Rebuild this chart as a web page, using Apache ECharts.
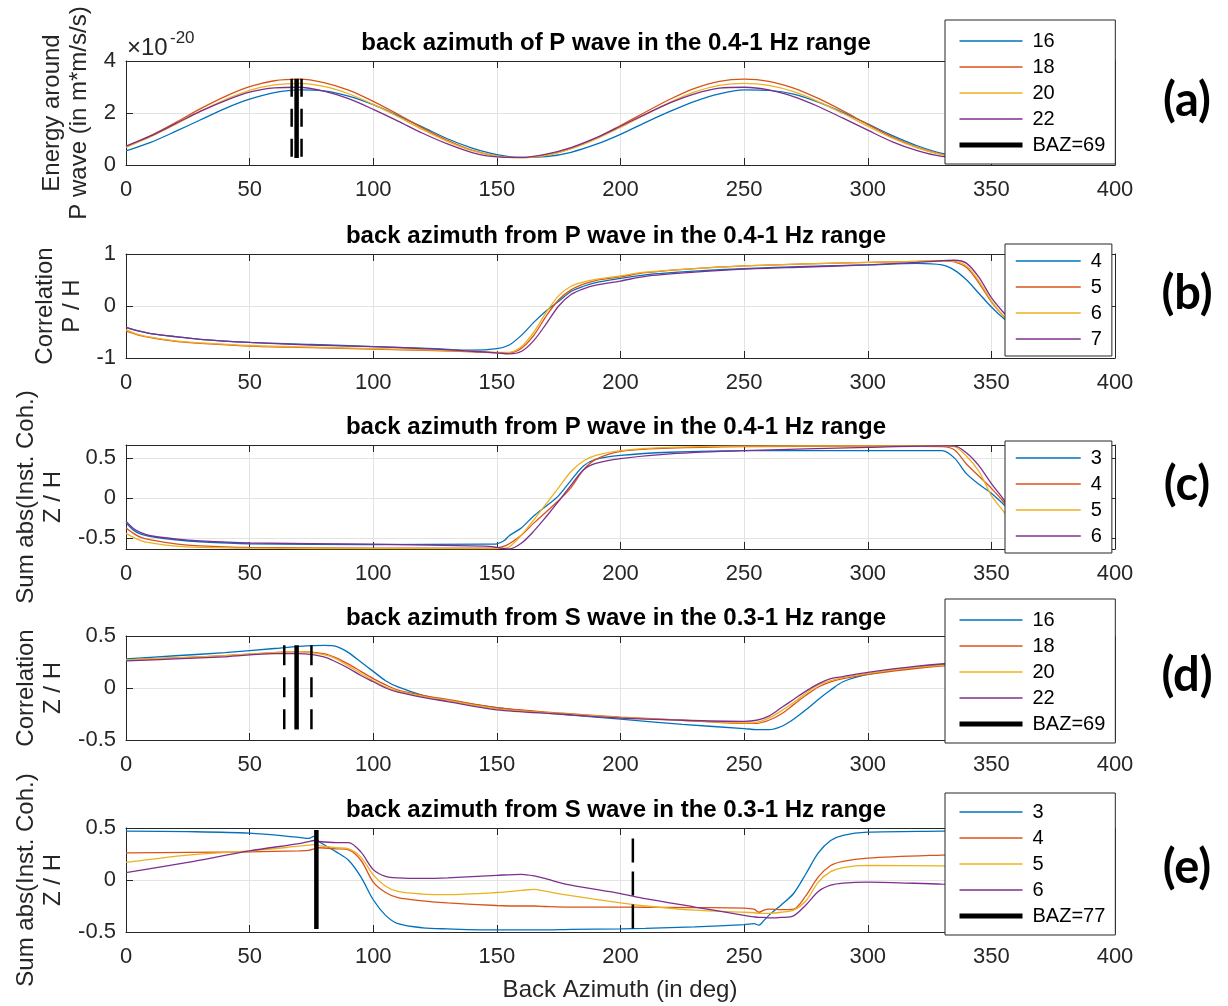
<!DOCTYPE html>
<html><head><meta charset="utf-8">
<script src="https://cdn.jsdelivr.net/npm/echarts@6/dist/echarts.min.js"></script>
<style>html,body{margin:0;padding:0;background:#fff}#c{width:1228px;height:1006px}</style>
</head><body><div id="c"></div>
<script>
// ---------- DATA ----------
const xTicks = [0, 400, 50];
// (a) energy around P wave (x1e-20)
const xA = [0,10,20,30,40,50,60,70,80,90,100,110,120,130,140,150,160,170,180,190,200,210,220,230,240,250,260,270,280,290,300,310,320,330,340,350,358];
const A16 = [0.54,0.87,1.29,1.73,2.17,2.53,2.78,2.89,2.85,2.65,2.32,1.90,1.46,1.01,0.65,0.40,0.29,0.32,0.49,0.79,1.18,1.63,2.06,2.45,2.74,2.89,2.87,2.73,2.42,2.02,1.58,1.13,0.74,0.45,0.31,0.31,0.38];
const A18 = [0.70,1.13,1.63,2.16,2.63,3.01,3.24,3.30,3.17,2.88,2.45,1.95,1.42,0.95,0.57,0.34,0.28,0.38,0.64,1.03,1.52,2.03,2.53,2.95,3.22,3.30,3.22,2.96,2.56,2.08,1.56,1.07,0.68,0.41,0.28,0.32,0.45];
const A20 = [0.68,1.09,1.56,2.06,2.51,2.87,3.08,3.14,3.02,2.74,2.33,1.86,1.36,0.91,0.55,0.34,0.28,0.37,0.62,0.99,1.45,1.94,2.41,2.81,3.06,3.14,3.06,2.82,2.44,1.98,1.49,1.03,0.66,0.40,0.28,0.32,0.44];
const A22 = [0.73,1.12,1.59,2.06,2.47,2.80,2.97,2.99,2.84,2.55,2.14,1.69,1.22,0.81,0.48,0.31,0.29,0.42,0.67,1.04,1.49,1.95,2.39,2.74,2.96,2.99,2.89,2.63,2.25,1.80,1.34,0.89,0.55,0.33,0.29,0.38,0.51];
const bazA = [69], errA = [67, 71], spanA = [3.32, 0.27];
// (b) correlation P / H
const xB = [0,5,10,20,30,50,75,100,125,140,150,155,160,165,170,175,180,185,190,200,210,230,250,275,300,320,330,335,340,345,350,355,358];
const B4 = [-0.41,-0.48,-0.53,-0.59,-0.64,-0.70,-0.74,-0.78,-0.82,-0.85,-0.82,-0.75,-0.56,-0.31,-0.09,0.09,0.28,0.38,0.45,0.53,0.60,0.67,0.72,0.76,0.79,0.82,0.79,0.69,0.50,0.24,-0.02,-0.24,-0.33];
const B5 = [-0.48,-0.56,-0.61,-0.68,-0.72,-0.77,-0.80,-0.83,-0.86,-0.88,-0.90,-0.90,-0.81,-0.56,-0.19,0.12,0.31,0.42,0.49,0.56,0.64,0.72,0.77,0.81,0.84,0.86,0.87,0.85,0.74,0.44,0.08,-0.20,-0.32];
const B6 = [-0.46,-0.55,-0.60,-0.67,-0.71,-0.76,-0.79,-0.82,-0.85,-0.87,-0.89,-0.89,-0.78,-0.50,-0.12,0.20,0.38,0.46,0.51,0.58,0.65,0.72,0.77,0.81,0.84,0.86,0.87,0.86,0.77,0.48,0.10,-0.20,-0.33];
const B7 = [-0.41,-0.48,-0.53,-0.59,-0.64,-0.70,-0.75,-0.78,-0.83,-0.87,-0.90,-0.92,-0.87,-0.66,-0.34,0.00,0.22,0.33,0.40,0.48,0.57,0.65,0.71,0.75,0.79,0.84,0.87,0.88,0.82,0.55,0.16,-0.13,-0.27];
// (c) sum abs(inst. coh.) Z / H, P wave
const xC = [0,3,6,10,20,30,50,100,145,150,153,155,160,165,170,175,180,185,190,200,220,250,300,330,335,340,345,350,355,358];
const C3 = [-0.31,-0.40,-0.45,-0.48,-0.52,-0.545,-0.57,-0.58,-0.575,-0.57,-0.53,-0.47,-0.37,-0.22,-0.10,0.03,0.22,0.40,0.48,0.53,0.57,0.59,0.59,0.59,0.50,0.30,0.17,0.06,-0.08,-0.16];
const C4 = [-0.37,-0.44,-0.49,-0.52,-0.57,-0.595,-0.615,-0.625,-0.625,-0.62,-0.60,-0.57,-0.46,-0.31,-0.17,-0.03,0.13,0.35,0.48,0.58,0.62,0.64,0.645,0.64,0.60,0.42,0.27,0.12,-0.05,-0.18];
const C5 = [-0.44,-0.49,-0.53,-0.56,-0.60,-0.615,-0.625,-0.63,-0.63,-0.63,-0.625,-0.61,-0.46,-0.27,-0.07,0.13,0.33,0.46,0.53,0.59,0.63,0.645,0.65,0.65,0.64,0.52,0.33,0.03,-0.17,-0.31];
const C6 = [-0.29,-0.38,-0.43,-0.47,-0.51,-0.535,-0.56,-0.575,-0.60,-0.615,-0.63,-0.635,-0.56,-0.41,-0.23,-0.04,0.16,0.35,0.43,0.49,0.55,0.59,0.63,0.65,0.65,0.56,0.40,0.18,-0.02,-0.18];
const yTicksC = [-0.5, 0, 0.5], yRangeC = [-0.635, 0.66];
// (d) correlation Z / H, S wave
const xD = [0,20,40,60,70,80,85,90,95,100,105,110,120,130,150,175,200,225,250,255,260,265,270,275,280,285,290,300,320,340,358];
const D16 = [0.28,0.31,0.34,0.38,0.40,0.41,0.40,0.34,0.25,0.16,0.07,0.01,-0.07,-0.12,-0.19,-0.25,-0.30,-0.35,-0.39,-0.40,-0.40,-0.37,-0.30,-0.21,-0.11,-0.02,0.06,0.13,0.20,0.24,0.26];
const D18 = [0.27,0.29,0.31,0.34,0.35,0.33,0.29,0.23,0.16,0.09,0.03,-0.02,-0.07,-0.11,-0.19,-0.24,-0.28,-0.31,-0.34,-0.34,-0.31,-0.25,-0.16,-0.07,0.01,0.06,0.09,0.13,0.19,0.23,0.25];
const D20 = [0.27,0.29,0.31,0.34,0.35,0.32,0.28,0.21,0.14,0.07,0.01,-0.03,-0.08,-0.12,-0.20,-0.245,-0.285,-0.31,-0.335,-0.33,-0.29,-0.22,-0.14,-0.05,0.03,0.07,0.10,0.14,0.20,0.235,0.26];
const D22 = [0.26,0.28,0.30,0.33,0.33,0.30,0.25,0.19,0.12,0.06,0.00,-0.04,-0.09,-0.13,-0.21,-0.25,-0.29,-0.31,-0.32,-0.31,-0.27,-0.19,-0.11,-0.03,0.04,0.09,0.11,0.15,0.21,0.25,0.27];
const bazD = [69], errD = [64, 75], spanD = [0.41, -0.40];
// (e) sum abs(inst. coh.) Z / H, S wave
const xE = [0,25,50,70,74,76,78,85,90,95,100,105,110,120,130,150,160,165,170,180,200,210,230,250,254,256,258,260,265,270,275,280,285,290,300,330,358];
const E3 = [0.47,0.465,0.45,0.41,0.40,0.42,0.37,0.27,0.19,0.03,-0.19,-0.34,-0.42,-0.46,-0.47,-0.48,-0.48,-0.48,-0.48,-0.475,-0.47,-0.465,-0.45,-0.43,-0.42,-0.435,-0.39,-0.34,-0.24,-0.13,0.06,0.26,0.38,0.43,0.46,0.47,0.48];
const E4 = [0.26,0.265,0.27,0.28,0.285,0.30,0.31,0.30,0.29,0.19,-0.02,-0.12,-0.17,-0.20,-0.22,-0.245,-0.25,-0.25,-0.255,-0.26,-0.26,-0.262,-0.265,-0.27,-0.28,-0.31,-0.29,-0.28,-0.285,-0.28,-0.15,0.03,0.14,0.18,0.21,0.24,0.26];
const E5 = [0.17,0.24,0.28,0.325,0.335,0.34,0.33,0.31,0.30,0.22,0.05,-0.06,-0.11,-0.135,-0.14,-0.12,-0.10,-0.09,-0.11,-0.15,-0.22,-0.25,-0.29,-0.31,-0.315,-0.32,-0.32,-0.32,-0.31,-0.29,-0.20,-0.02,0.08,0.12,0.14,0.135,0.12];
const E6 = [0.07,0.17,0.28,0.35,0.37,0.38,0.37,0.36,0.36,0.27,0.10,0.035,0.02,0.015,0.02,0.045,0.055,0.04,0.01,-0.05,-0.13,-0.18,-0.26,-0.34,-0.355,-0.36,-0.36,-0.365,-0.36,-0.345,-0.24,-0.11,-0.05,-0.03,-0.02,-0.04,-0.05];
const bazE = [77], spanE = [0.48, -0.47], errE = [205], spanErrE = [0.40, -0.47];

const titles = ['back azimuth of P wave in the 0.4-1 Hz range','back azimuth from P wave in the 0.4-1 Hz range','back azimuth from P wave in the 0.4-1 Hz range','back azimuth from S wave in the 0.3-1 Hz range','back azimuth from S wave in the 0.3-1 Hz range'];
const yNames = ['Energy around\nP wave (in m*m/s/s)','Correlation\nP / H','Sum abs(Inst. Coh.)\nZ / H','Correlation\nZ / H','Sum abs(Inst. Coh.)\nZ / H'];
const panelTags = ['(a)','(b)','(c)','(d)','(e)'];

// ---------- STYLE / LAYOUT ----------
const COLORS = ['#0072BD','#D95319','#EDB120','#7E2F8E'];
const FONT = '"Liberation Sans", Arial, Helvetica, sans-serif';
const AXC = '#262626';
const GL = 126, GR = 113, GH = 104;
const TOPS = [61, 254, 445, 636, 828];
const YAX = [
  {min:0, max:4, interval:2},
  {min:-1, max:1, interval:1},
  {min:yRangeC[0], max:yRangeC[1], custom:yTicksC},
  {min:-0.5, max:0.5, interval:0.5},
  {min:-0.5, max:0.5, interval:0.5}
];

const grids = [], xAxes = [], yAxes = [], series = [], legends = [], graphics = [];

TOPS.forEach((t, i) => {
  grids.push({left: GL, right: GR, top: t, height: GH, show: false});
  const xBase = {type:'value', gridIndex:i, min:xTicks[0], max:xTicks[1], interval:xTicks[2],
    axisLine:{show:true, onZero:false, lineStyle:{color:AXC, width:1}},
    axisTick:{show:true, inside:true, length:7, lineStyle:{color:AXC}}};
  xAxes.push(Object.assign({}, xBase, {position:'bottom',
    axisLabel:{show:true, margin:14, fontSize:22, color:AXC, fontFamily:FONT},
    splitLine:{show:true, lineStyle:{color:'#e3e3e3', width:1}}}));
  xAxes.push(Object.assign({}, xBase, {position:'top', axisLabel:{show:false}, splitLine:{show:false}}));
  const ya = YAX[i];
  const yBase = {type:'value', gridIndex:i, min:ya.min, max:ya.max,
    axisLine:{show:true, onZero:false, lineStyle:{color:AXC, width:1}}};
  if (ya.interval) yBase.interval = ya.interval;
  const tick = {show:true, inside:true, length:7, lineStyle:{color:AXC}};
  const lab = {show:true, margin:10, fontSize:22, color:AXC, fontFamily:FONT};
  if (ya.custom) { tick.customValues = ya.custom; lab.customValues = ya.custom; }
  yAxes.push(Object.assign({}, yBase, {position:'left', axisTick:tick, axisLabel:lab,
    splitLine:{show:true, lineStyle:{color:'#e3e3e3', width:1}},
    name: yNames[i], nameLocation:'middle', nameRotate:90, nameGap:31,
    nameTextStyle:{fontSize:24, color:AXC, fontFamily:FONT, lineHeight:27}}));
  const tick2 = Object.assign({}, tick);
  yAxes.push(Object.assign({}, yBase, {position:'right', axisTick:tick2, axisLabel:{show:false}, splitLine:{show:false}}));
});

function addLines(panel, xs, ysList, names) {
  ysList.forEach((ys, k) => {
    series.push({type:'line', name:names[k], xAxisIndex:panel*2, yAxisIndex:panel*2,
      data: xs.map((x, j) => [x, ys[j]]), symbol:'none', showSymbol:false, smooth:0.3,
      lineStyle:{width:1.3, color:COLORS[k]}, itemStyle:{color:COLORS[k]}, z:2, silent:true});
  });
}
function addVLine(panel, name, x, span, width, dash) {
  series.push({type:'line', name:name, xAxisIndex:panel*2, yAxisIndex:panel*2,
    data:[[x, span[0]], [x, span[1]]], symbol:'none', showSymbol:false,
    lineStyle:{width:width, color:'#000', type:dash || 'solid', cap:'butt'}, itemStyle:{color:'#000'}, z:3, silent:true});
}

addLines(0, xA, [A16, A18, A20, A22], ['16','18','20','22']);
errA.forEach((x, k) => addVLine(0, 'errA' + k, x, spanA, 2.5, [18, 12]));
addVLine(0, 'BAZ=' + bazA[0], bazA[0], spanA, 4.5);
addLines(1, xB, [B4, B5, B6, B7], ['4','5','6','7']);
addLines(2, xC, [C3, C4, C5, C6], ['3','4','5','6']);
addLines(3, xD, [D16, D18, D20, D22], ['16','18','20','22']);
errD.forEach((x, k) => addVLine(3, 'errD' + k, x, spanD, 2.5, [20, 12]));
addVLine(3, 'BAZ=' + bazD[0], bazD[0], spanD, 4.5);
addLines(4, xE, [E3, E4, E5, E6], ['3','4','5','6']);
errE.forEach((x, k) => addVLine(4, 'errE' + k, x, spanErrE, 2.5, [24, 9]));
addVLine(4, 'BAZ=' + bazE[0], bazE[0], spanE, 4.5);

const HIDE = {color:'rgba(0,0,0,0)', borderWidth:0, borderColor:'rgba(0,0,0,0)'};
function legend(left, top, names, w, bazName, padding) {
  const data = names.map((n, k) => ({name:n, lineStyle:{color:COLORS[k], width:1.5}, itemStyle:HIDE}));
  if (bazName) data.push({name:bazName, lineStyle:{color:'#000', width:5}, itemStyle:HIDE});
  return {orient:'vertical', left:left, top:top, data:data, itemWidth:w, itemHeight:14, itemGap:6,
    padding:padding, backgroundColor:'#fff', borderColor:AXC, borderWidth:1, borderRadius:0,
    selectedMode:false,
    textStyle:{fontSize:20, color:'#000', fontFamily:FONT, padding:[0,0,0,5]}};
}
legends.push(legend(945, 20, ['16','18','20','22'], 63, 'BAZ=' + bazA[0], [11,10,9,12]));
legends.push(legend(1005, 244, ['4','5','6','7'], 65, null, [7,10,7,10]));
legends.push(legend(1005, 441, ['3','4','5','6'], 65, null, [7,10,7,10]));
legends.push(legend(945, 599, ['16','18','20','22'], 63, 'BAZ=' + bazD[0], [11,10,9,12]));
legends.push(legend(945, 793, ['3','4','5','6'], 63, 'BAZ=' + bazE[0], [9,10,9,12]));

TOPS.forEach((t, i) => {
  graphics.push({type:'text', x:616, y:t - 18, z:50,
    style:{text:titles[i], fontSize:24, fontWeight:'bold', fontFamily:FONT, fill:'#000', align:'center', verticalAlign:'middle'}});
  graphics.push({type:'text', x:1187, y:t + 40, z:50,
    style:{text:panelTags[i], fontSize:47, fontWeight:'bold', fontFamily:'Lato, "Open Sans", sans-serif', fill:'#000', align:'center', verticalAlign:'middle'}});
});
graphics.push({type:'text', x:127, y:48, z:50, style:{text:'\u00d710', fontSize:24, fontFamily:FONT, fill:AXC, align:'left', verticalAlign:'middle'}});
graphics.push({type:'text', x:170, y:38, z:50, style:{text:'-20', fontSize:17, fontFamily:FONT, fill:AXC, align:'left', verticalAlign:'middle'}});
graphics.push({type:'text', x:620, y:990, z:50, style:{text:'Back Azimuth (in deg)', fontSize:24, fontFamily:FONT, fill:AXC, align:'center', verticalAlign:'middle'}});

const chart = echarts.init(document.getElementById('c'), null, {renderer:'canvas', width:1228, height:1006});
chart.setOption({
  animation:false,
  backgroundColor:'#fff',
  grid:grids, xAxis:xAxes, yAxis:yAxes, series:series, legend:legends, graphic:graphics
});
</script></body></html>
